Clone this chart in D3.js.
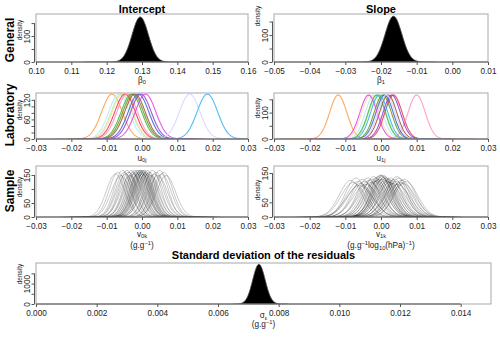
<!DOCTYPE html>
<html>
<head>
<meta charset="utf-8">
<script src="https://cdn.jsdelivr.net/npm/d3@7"></script>
<style>
  body { margin: 0; background: #fff; }
  svg { display: block; font-family: "Liberation Sans", Arial, sans-serif; }
</style>
</head>
<body>
<svg id="chart" width="500" height="337"></svg>
<script>
// ---- data ----
const columnTitles = ['Intercept', 'Slope']
const rowTitles = ['General', 'Laboratory', 'Sample']

// general effects: posterior mean, sd and plotted range
const generalMeans = [0.1295, -0.0165]
const generalSds = [0.0023, 0.00235]
const generalRanges = [[0.1135, 0.147], [-0.0295, -0.0045]]

// laboratory effects (14 labs)
const labInterceptMeans = [-0.0085, -0.0065, -0.0058, -0.0055, -0.0048, -0.0042, -0.003, -0.0025, -0.002, -0.001, -0.0003, 0.001, 0.0135, 0.0185]
const labSlopeMeans = [-0.012, -0.002, -0.001, -0.003, 0.0035, 0.01, -0.0012, 0.0005, 0.002, 0.001, 0.003, -0.0035, 0.0015, -0.0005]
const labInterceptSd = 0.0029
const labSlopeSd = 0.0024
const labSpan = 0.0165

// sample effects
const sampleInterceptMeans = [-0.0075, -0.0068, -0.006, -0.0055, -0.005, -0.0046, -0.0042, -0.0038, -0.0034, -0.003,
  -0.0027, -0.0024, -0.0021, -0.0018, -0.0015, -0.0012, -0.001, -0.0008, -0.0006, -0.0004,
  -0.0002, 0, 0.0001, 0.0003, 0.0005, 0.0007, 0.0009, 0.0012, 0.0015, 0.0018,
  0.0021, 0.0025, 0.003, 0.0035, 0.004, 0.0045, 0.005, 0.0056, 0.0062, 0.0068]
const sampleInterceptSds = [0.0026, 0.0025, 0.0027, 0.0024, 0.0025, 0.0026, 0.0024, 0.0025, 0.0027, 0.0024,
  0.0025, 0.0026, 0.0024, 0.0025, 0.0024, 0.0026, 0.0024, 0.0025, 0.0024, 0.0024,
  0.0025, 0.0024, 0.0026, 0.0024, 0.0025, 0.0024, 0.0026, 0.0025, 0.0024, 0.0026,
  0.0025, 0.0027, 0.0024, 0.0026, 0.0025, 0.0027, 0.0024, 0.0026, 0.0025, 0.0027]
const sampleSlopeMeans = [-0.0085, -0.0078, -0.007, -0.0064, -0.0058, -0.0052, -0.0047, -0.0042, -0.0037, -0.0033,
  -0.0029, -0.0025, -0.0021, -0.0017, -0.0014, -0.0011, -0.0008, -0.0005, -0.0002, 0,
  0.0002, 0.0004, 0.0006, 0.0008, 0.001, 0.0012, 0.0015, 0.0018, 0.0021, 0.0024,
  0.0027, 0.003, 0.0034, 0.0038, 0.0042, 0.0046, 0.005, 0.0054, 0.0058, 0.0062,
  0.0066, 0.007, -0.006, 0.0044]
const sampleSlopeSds = [0.0032, 0.0034, 0.003, 0.0033, 0.0035, 0.0031, 0.0033, 0.0036, 0.003, 0.0032,
  0.0034, 0.0031, 0.0029, 0.0033, 0.003, 0.0032, 0.0029, 0.0031, 0.0028, 0.0028,
  0.0029, 0.0031, 0.0028, 0.003, 0.0029, 0.0032, 0.003, 0.0033, 0.0031, 0.0034,
  0.003, 0.0032, 0.0035, 0.0031, 0.0033, 0.0036, 0.003, 0.0034, 0.0032, 0.0035,
  0.0031, 0.0033, 0.0037, 0.0029]
const sampleSpan = 0.016

// residual standard deviation
const sigmaMean = 0.00735
const sigmaSd = 0.000205
const sigmaRange = [0.0065, 0.0083]

// axis ticks
const generalInterceptTicks = [0.10, 0.11, 0.12, 0.13, 0.14, 0.15, 0.16]
const generalSlopeTicks = [-0.05, -0.04, -0.03, -0.02, -0.01, 0.00, 0.01]
const effectTicks = [-0.03, -0.02, -0.01, 0.00, 0.01, 0.02, 0.03]
const sigmaTicks = [0.000, 0.002, 0.004, 0.006, 0.008, 0.010, 0.012, 0.014]

// ---- styles ----
const labColors = ['#ff9a3c', '#b4e8f8', '#b8f0a8', '#ffd8a8', '#e8304a', '#ff90c0', '#3cb43c', '#6b8e23',
  '#a0522d', '#3a5fcd', '#8a3ccd', '#e040e0', '#d8d0ff', '#30b0f0']

const svg = d3.select('#chart')
const xL = [36, 248], xR = [274, 488]

const panels = [
  { x: xL, y: [14, 62], dom: [0.10, 0.16], ymax: 185, ticks: generalInterceptTicks, fmt: '.2f', yt: [0, 50, 100, 150], yl: [0, 100], dens: 30 },
  { x: xR, y: [14, 62], dom: [-0.05, 0.01], ymax: 178, ticks: generalSlopeTicks, fmt: '.2f', yt: [0, 50, 100, 150], yl: [0, 100], dens: 16 },
  { x: xL, y: [93, 139], dom: [-0.03, 0.03], ymax: 141, ticks: effectTicks, fmt: '.2f', yt: [0, 20, 40, 60, 80, 100, 120], yl: [0, 60, 120], dens: 110 },
  { x: xR, y: [93, 139], dom: [-0.03, 0.03], ymax: 174, ticks: effectTicks, fmt: '.2f', yt: [0, 50, 100, 150], yl: [0, 100], dens: 108 },
  { x: xL, y: [166, 217], dom: [-0.03, 0.03], ymax: 182, ticks: effectTicks, fmt: '.2f', yt: [0, 50, 100, 150], yl: [0, 50, 150], dens: 187 },
  { x: xR, y: [166, 217], dom: [-0.03, 0.03], ymax: 174, ticks: effectTicks, fmt: '.2f', yt: [0, 50, 100, 150], yl: [0, 50, 150], dens: 190 },
  { x: [36, 491], y: [263, 304], dom: [0, 0.015], ymax: 2010, ticks: sigmaTicks, fmt: '.3f', yt: [0, 500, 1000, 1500], yl: [0, 1000], dens: 274 }
]

function gauss(m, s) {
  return x => Math.exp(-0.5 * ((x - m) / s) ** 2) / (s * Math.sqrt(2 * Math.PI))
}

function curve(m, s, lo, hi) {
  const f = gauss(m, s)
  const n = 240
  return d3.range(n + 1).map(i => {
    const x = lo + (hi - lo) * i / n
    return [x, f(x)]
  })
}

panels.forEach((p, i) => {
  p.sx = d3.scaleLinear().domain(p.dom).range(p.x)
  p.sy = d3.scaleLinear().domain([0, p.ymax]).range([p.y[1], p.y[0]])
  p.g = svg.append('g')
  svg.append('clipPath').attr('id', 'clip' + i).append('rect')
    .attr('x', p.x[0]).attr('y', p.y[0]).attr('width', p.x[1] - p.x[0]).attr('height', p.y[1] - p.y[0])
  p.plot = p.g.append('g').attr('clip-path', `url(#clip${i})`)
})

const line = p => d3.line().x(d => p.sx(d[0])).y(d => p.sy(d[1]))
const area = p => d3.area().x(d => p.sx(d[0])).y0(p.sy(0)).y1(d => p.sy(d[1]))

// general panels and sigma: filled black
function filled(p, m, s, r) {
  const pts = curve(m, s, r[0], r[1])
  p.plot.append('path').datum(pts).attr('d', area(p)).attr('fill', '#000')
  p.plot.append('path').datum(pts).attr('d', line(p)).attr('fill', 'none').attr('stroke', '#444').attr('stroke-width', 0.9)
}
filled(panels[0], generalMeans[0], generalSds[0], generalRanges[0])
filled(panels[1], generalMeans[1], generalSds[1], generalRanges[1])
filled(panels[6], sigmaMean, sigmaSd, sigmaRange)

// laboratory panels
labInterceptMeans.forEach((m, j) => {
  const p = panels[2]
  p.plot.append('path').datum(curve(m, labInterceptSd, m - labSpan, m + labSpan))
    .attr('d', line(p)).attr('fill', 'none').attr('stroke', labColors[j])
    .attr('stroke-width', 1.1).attr('stroke-opacity', 0.85)
})
labSlopeMeans.forEach((m, j) => {
  const p = panels[3]
  p.plot.append('path').datum(curve(m, labSlopeSd, m - labSpan, m + labSpan))
    .attr('d', line(p)).attr('fill', 'none').attr('stroke', labColors[j])
    .attr('stroke-width', 1.1).attr('stroke-opacity', 0.85)
})

// sample panels
sampleInterceptMeans.forEach((m, j) => {
  const p = panels[4]
  p.plot.append('path').datum(curve(m, sampleInterceptSds[j], m - sampleSpan, m + sampleSpan))
    .attr('d', line(p)).attr('fill', 'none').attr('stroke', '#000')
    .attr('stroke-width', 0.85).attr('stroke-opacity', 0.26)
})
sampleSlopeMeans.forEach((m, j) => {
  const p = panels[5]
  p.plot.append('path').datum(curve(m, sampleSlopeSds[j], m - sampleSpan, m + sampleSpan))
    .attr('d', line(p)).attr('fill', 'none').attr('stroke', '#000')
    .attr('stroke-width', 0.85).attr('stroke-opacity', 0.26)
})

// boxes and axes
panels.forEach(p => {
  p.g.append('rect')
    .attr('x', p.x[0]).attr('y', p.y[0]).attr('width', p.x[1] - p.x[0]).attr('height', p.y[1] - p.y[0])
    .attr('fill', 'none').attr('stroke', '#a8a8a8').attr('stroke-width', 1)

  const xa = p.g.append('g').attr('transform', `translate(0,${p.y[1]})`)
    .call(d3.axisBottom(p.sx).tickValues(p.ticks).tickFormat(d3.format(p.fmt)).tickSize(3).tickSizeOuter(0))
  xa.select('.domain').attr('d', `M${p.sx(p.ticks[0])},0H${p.sx(p.ticks[p.ticks.length - 1])}`)

  const yx = p.x[0] - 1.5
  const ya = p.g.append('g').attr('transform', `translate(${yx},0)`)
    .call(d3.axisLeft(p.sy).tickValues(p.yt).tickSize(3).tickSizeOuter(0).tickFormat(''))
  ya.select('.domain').attr('d', `M0,${p.sy(p.yt[0])}V${p.sy(p.yt[p.yt.length - 1])}`)
  ya.selectAll('.tick').filter(d => p.yl.includes(d)).append('text')
    .attr('transform', 'translate(-4.5,0) rotate(-90)')
    .attr('text-anchor', 'middle').text(d => d)

  ;[xa, ya].forEach(a => {
    a.attr('font-size', 8.2).attr('font-family', null)
    a.selectAll('.domain, line').attr('stroke', '#555')
    a.selectAll('text').attr('fill', '#222')
  })

  p.g.append('text').attr('font-size', 6.5).attr('fill', '#222').attr('text-anchor', 'middle')
    .attr('transform', `translate(${yx - 13},${p.dens}) rotate(-90)`).text('density')
})

// titles
const titleY = 12.5
;[0, 1].forEach(c => {
  const p = panels[c]
  svg.append('text').attr('x', (p.x[0] + p.x[1]) / 2).attr('y', titleY)
    .attr('text-anchor', 'middle').attr('font-size', 11).attr('font-weight', 'bold').text(columnTitles[c])
})
svg.append('text').attr('x', (panels[6].x[0] + panels[6].x[1]) / 2).attr('y', 259)
  .attr('text-anchor', 'middle').attr('font-size', 11).attr('font-weight', 'bold')
  .text('Standard deviation of the residuals')

const rowCenters = [40, 115, 191]
rowTitles.forEach((t, r) => {
  svg.append('text').attr('transform', `translate(14,${rowCenters[r]}) rotate(-90)`)
    .attr('text-anchor', 'middle').attr('font-size', 12).attr('font-weight', 'bold').text(t)
})

// axis labels with sub/superscripts
function label(x, y, parts, size = 8.2) {
  const t = svg.append('text').attr('x', x).attr('y', y).attr('text-anchor', 'middle')
    .attr('font-size', size).attr('fill', '#222')
  let shift = 0
  parts.forEach(([s, kind]) => {
    const target = kind === 'sub' ? 1.8 : kind === 'sup' ? -3 : 0
    t.append('tspan').attr('dy', target - shift)
      .attr('font-size', kind ? size * 0.7 : size).text(s)
    shift = target
  })
}
const cx = p => (p.x[0] + p.x[1]) / 2
label(cx(panels[0]), 82.5, [['β'], ['0', 'sub']])
label(cx(panels[1]), 82.5, [['β'], ['1', 'sub']])
label(cx(panels[2]), 160.5, [['u'], ['0j', 'sub']])
label(cx(panels[3]), 160.5, [['u'], ['1j', 'sub']])
label(cx(panels[4]), 236.5, [['v'], ['0k', 'sub']])
label(cx(panels[5]), 236.5, [['v'], ['1k', 'sub']])
label(cx(panels[4]), 247.8, [['(g.g'], ['−1', 'sup'], [')']])
label(cx(panels[5]), 247.8, [['(g.g'], ['−1', 'sup'], ['log'], ['10', 'sub'], ['(hPa)'], ['−1', 'sup'], [')']])
label(cx(panels[6]), 318, [['σ'], ['ε', 'sub']])
label(cx(panels[6]), 327, [['(g.g'], ['−1', 'sup'], [')']])
</script>
</body>
</html>
